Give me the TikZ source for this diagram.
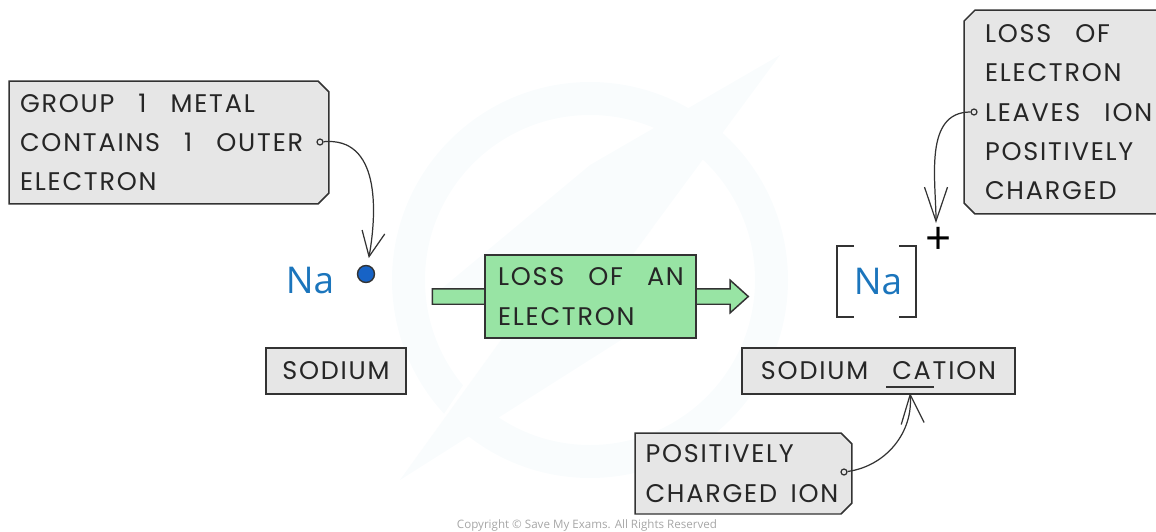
\documentclass[tikz,border=0pt]{standalone}
\usepackage{fontspec}
\setmainfont{Poppins}[LetterSpace=7,WordSpace=2.8]
\newfontfamily\markfont{Open Sans}
\usetikzlibrary{arrows.meta,shapes.misc,shapes.arrows}
\definecolor{boxgrey}{HTML}{E6E6E6}
\definecolor{boxgreen}{HTML}{98E4A4}
\definecolor{inkgrey}{HTML}{333333}
\definecolor{nablue}{HTML}{1B75BC}
\definecolor{markfill}{HTML}{F9FCFD}
\tikzset{
    labelbox/.style={draw=inkgrey, fill=boxgrey, line width=0.85pt, inner sep=0pt, text=black!85,
        align=flush left, font=\fontsize{14.5}{22.4}\selectfont},
    tagbox/.style={labelbox, chamfered rectangle, chamfered rectangle xsep=0.11cm, chamfered rectangle ysep=0.11cm},
    pin/.style={circle, draw=inkgrey, line width=0.7pt, fill=boxgrey, inner sep=0pt, minimum size=0.12cm},
    callout/.style={draw=inkgrey, line width=0.7pt, -{Straight Barb[length=#1,width=0.46cm]}},
    symbol/.style={text=nablue, font=\markfont\fontsize{21}{24}\selectfont}
}
\begin{document}
\begin{tikzpicture}[x=0.02cm, y=-0.02cm]
    \useasboundingbox (0,0) rectangle (1156,531);
    \clip (0,0) rectangle (1156,531);
    % watermark
    \fill[markfill, even odd rule] (590,280) circle (198) (590,280) circle (165);
    \fill[white] (780,55) -- (640,225) -- (700,235) -- (400,480) -- (520,300) -- (470,290) -- cycle;
    \fill[markfill] (780,55) -- (590,165) -- (440,290) -- (530,300) -- (400,480) -- (700,290) -- (625,265) -- cycle;
    \node[text=black!35, font=\markfont\fontsize{6.6}{7}\selectfont] (copyright) at (587,525) {Copyright © Save My Exams. All Rights Reserved};
    % left side
    \node[tagbox, chamfered rectangle corners={north east,south east}, minimum width=6.4cm, minimum height=2.46cm, text width=5.96cm] (groupbox) at (169,142.5)
        {GROUP 1 METAL\\\mbox{CONTAINS 1 OUTER}\\ELECTRON};
    \node[pin] (grouppin) at (320,142) {};
    \node[symbol] (sodium) at (310,281) {Na};
    \node[circle, draw=inkgrey, line width=0.8pt, fill=nablue!85!blue, minimum size=0.34cm, inner sep=0pt] (electron) at (366,274) {};
    \node[labelbox, minimum width=2.8cm, minimum height=0.92cm, align=center] (sodiumbox) at (336,371) {SODIUM};
    \draw[callout=0.5cm, shorten >=0.14cm] (grouppin) to[out=5, in=80, looseness=1.1] (electron);
    % middle arrow
    \node[single arrow, draw=inkgrey, fill=boxgreen, line width=0.85pt, inner xsep=0pt, inner ysep=0.14cm, minimum height=6.32cm,
        single arrow head extend=0.17cm, single arrow tip angle=84] (lossarrow) at (586,296.5) {};
    \node[labelbox, fill=boxgreen, minimum width=4.22cm, minimum height=1.66cm, text width=3.7cm] (lossbox) at (590.5,296.5)
        {\mbox{LOSS OF AN}\\ELECTRON};
    % right side
    \node[symbol] (sodiumion) at (878,282) {Na};
    \draw[inkgrey, line width=0.8pt] (854,246) -- (837,246) -- (837,317) -- (854,317); % left bracket
    \draw[inkgrey, line width=0.8pt] (899,246) -- (916,246) -- (916,317) -- (899,317); % right bracket
    \node[font=\markfont\fontsize{26}{28}\selectfont, text=black, inner sep=0pt] (plus) at (939,241) {+};
    \node[tagbox, chamfered rectangle corners={north west,south west}, minimum width=4.72cm, minimum height=4.08cm, text width=3.88cm] (leavesbox) at (1082,112)
        {LOSS OF\\[0.2pt]ELECTRON\\\mbox{LEAVES ION}\\POSITIVELY\\CHARGED};
    \node[pin] (leavespin) at (974,112) {};
    \draw[callout=0.68cm, shorten >=0.08cm] (leavespin) to[out=180, in=90] (plus.north -| 936,0);
    \node[labelbox, minimum width=5.46cm, minimum height=0.92cm, align=center] (cationbox) at (878.5,371) {SODIUM CATION};
    \draw[inkgrey, line width=1pt] (886,387) -- (934,387); % mark the CA
    \node[tagbox, chamfered rectangle corners={north east,south east}, minimum width=4.34cm, minimum height=1.62cm, text width=3.92cm] (chargedbox) at (743.5,473.5)
        {POSITIVELY\\\mbox{CHARGED\hspace{-6pt} ION}};
    \node[pin] (chargedpin) at (844,472) {};
    \coordinate (cationtip) at (910,393);
    \draw[callout=0.58cm] (chargedpin) to[out=8, in=-85] (cationtip);
\end{tikzpicture}
\end{document}
